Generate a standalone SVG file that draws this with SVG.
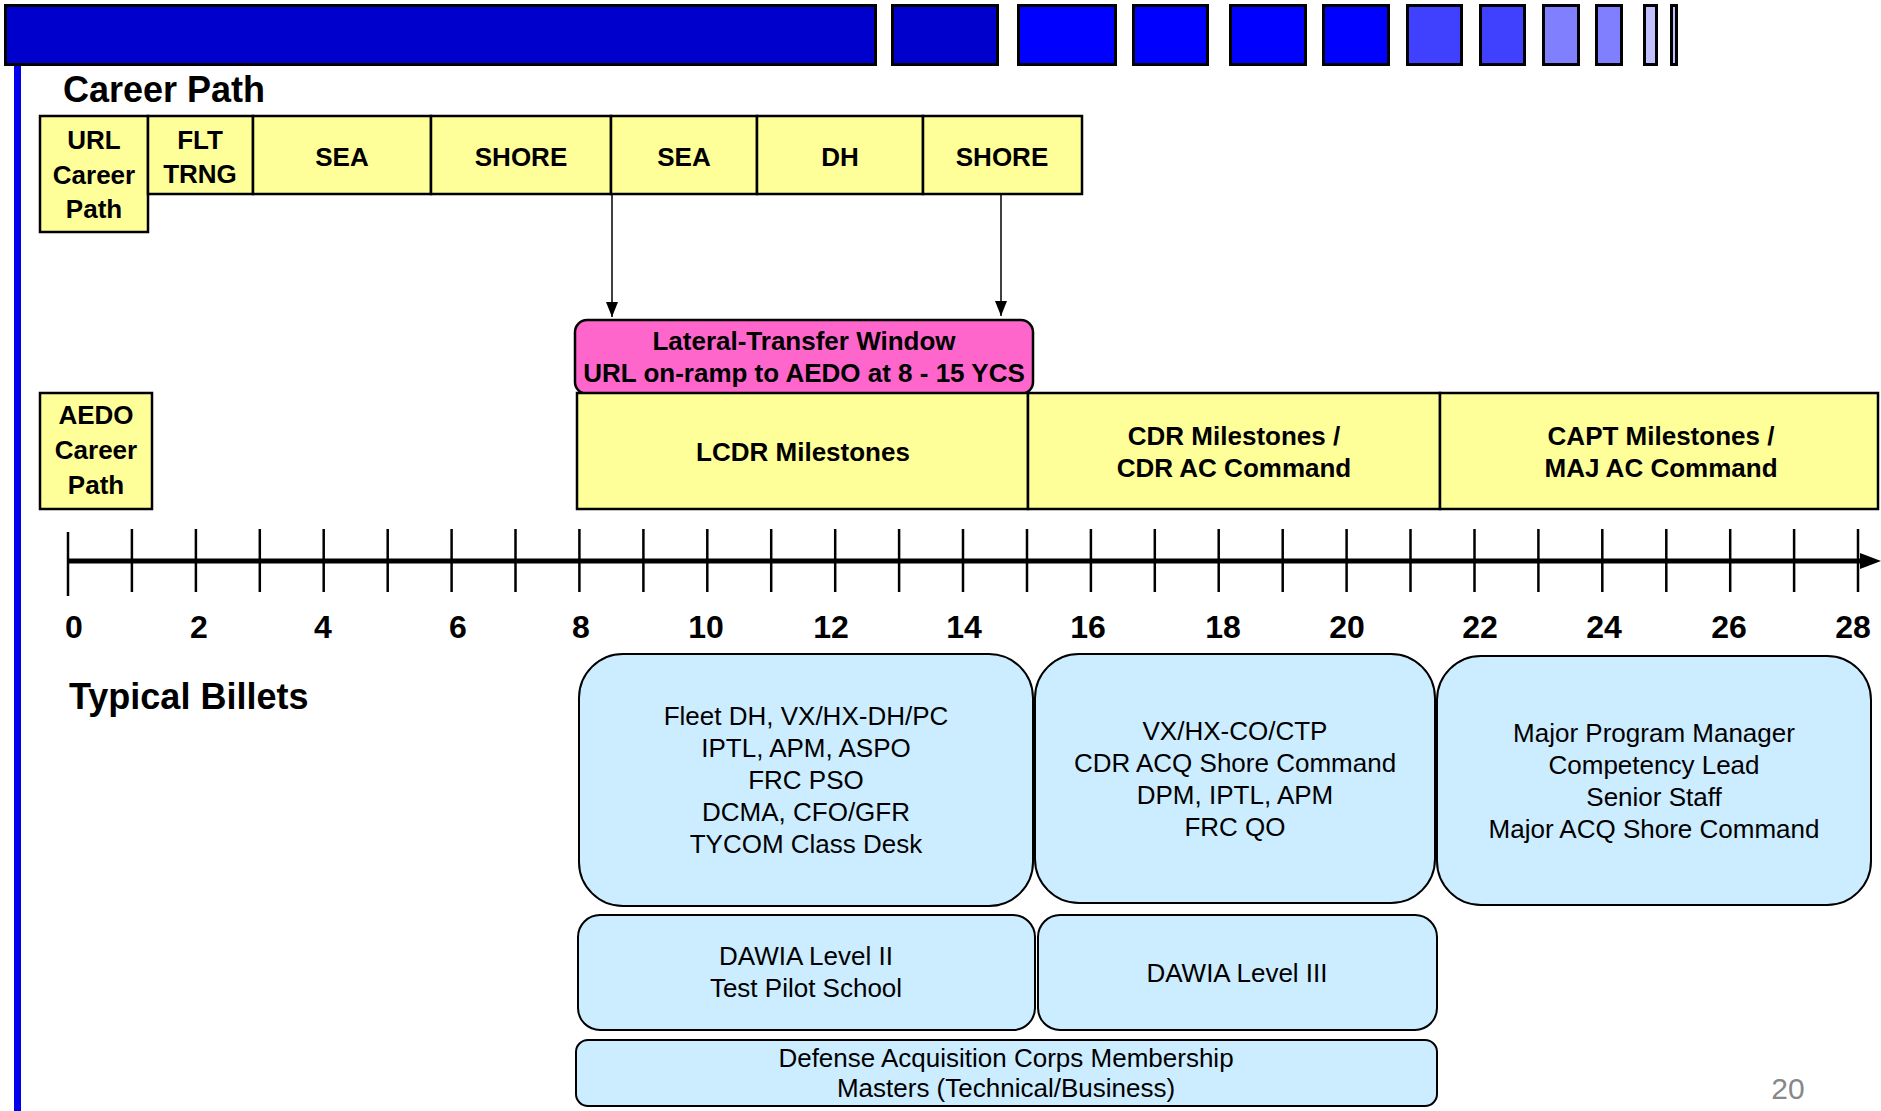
<svg xmlns="http://www.w3.org/2000/svg" width="1881" height="1111" viewBox="0 0 1881 1111">
<defs>
<style>
.bar{stroke:#000;stroke-width:3}
.yb{fill:#FFFF99;stroke:#000;stroke-width:2.5}
.bb{fill:#CCECFF;stroke:#000;stroke-width:2}
.pk{fill:#FF66CC;stroke:#000;stroke-width:2.5}
.bt{font-family:"Liberation Sans",Arial,sans-serif;font-weight:bold;font-size:26px;fill:#000;text-anchor:middle}
.rt{font-family:"Liberation Sans",Arial,sans-serif;font-size:26px;fill:#000;text-anchor:middle}
.ttl{font-family:"Liberation Sans",Arial,sans-serif;font-weight:bold;font-size:36px;fill:#000}
.num{font-family:"Liberation Sans",Arial,sans-serif;font-weight:bold;font-size:32px;fill:#000;text-anchor:middle}
.tick{stroke:#000;stroke-width:2.5}
.conn{stroke:#000;stroke-width:1.5;fill:none}
</style>
<marker id="ah" markerWidth="15" markerHeight="12" refX="15" refY="6" orient="auto" markerUnits="userSpaceOnUse" viewBox="0 0 15 12">
<path d="M0,0 L15,6 L0,12 Z" fill="#000"/>
</marker>
</defs>
<rect width="1881" height="1111" fill="#fff"/>
<g id="header-bars">
<rect class="bar" x="5.5" y="5.5" width="870" height="59" fill="#0000CC"/>
<rect class="bar" x="892.5" y="5.5" width="105" height="59" fill="#0000CC"/>
<rect class="bar" x="1018.5" y="5.5" width="97" height="59" fill="#0000FF"/>
<rect class="bar" x="1133.5" y="5.5" width="74" height="59" fill="#0000FF"/>
<rect class="bar" x="1230.5" y="5.5" width="75" height="59" fill="#0000FF"/>
<rect class="bar" x="1323.5" y="5.5" width="65" height="59" fill="#0000FF"/>
<rect class="bar" x="1407.5" y="5.5" width="54" height="59" fill="#4040FF"/>
<rect class="bar" x="1480.5" y="5.5" width="44" height="59" fill="#4040FF"/>
<rect class="bar" x="1543.5" y="5.5" width="35" height="59" fill="#8080FF"/>
<rect class="bar" x="1596.5" y="5.5" width="25" height="59" fill="#8080FF"/>
<rect class="bar" x="1644.5" y="5.5" width="12" height="59" fill="#C0C0FF"/>
<rect class="bar" x="1671.5" y="5.5" width="5" height="59" fill="#C0C0FF"/>
<rect x="14" y="66" width="7" height="1045" fill="#0000EE"/>
</g>
<text class="ttl" x="63" y="102">Career Path</text>
<text class="ttl" x="69" y="709">Typical Billets</text>
<g id="url-career-path">
<rect class="yb" x="40" y="116" width="108" height="116"/>
<text class="bt" x="94" y="149">URL</text>
<text class="bt" x="94" y="184">Career</text>
<text class="bt" x="94" y="218">Path</text>
</g>
<g id="flt-trng">
<rect class="yb" x="148" y="116" width="105" height="78"/>
<text class="bt" x="200" y="149">FLT</text>
<text class="bt" x="200" y="183">TRNG</text>
</g>
<g id="sea-1">
<rect class="yb" x="253" y="116" width="178" height="78"/>
<text class="bt" x="342" y="166">SEA</text>
</g>
<g id="shore-1">
<rect class="yb" x="431" y="116" width="180" height="78"/>
<text class="bt" x="521" y="166">SHORE</text>
</g>
<g id="sea-2">
<rect class="yb" x="611" y="116" width="146" height="78"/>
<text class="bt" x="684" y="166">SEA</text>
</g>
<g id="dh">
<rect class="yb" x="757" y="116" width="166" height="78"/>
<text class="bt" x="840" y="166">DH</text>
</g>
<g id="shore-2">
<rect class="yb" x="923" y="116" width="159" height="78"/>
<text class="bt" x="1002" y="166">SHORE</text>
</g>
<g id="connectors">
<line class="conn" x1="612" y1="194" x2="612" y2="317" marker-end="url(#ah)"/>
<line class="conn" x1="1001" y1="194" x2="1001" y2="316" marker-end="url(#ah)"/>
</g>
<g id="lateral-transfer">
<rect class="pk" x="575" y="320" width="458" height="74" rx="12" ry="12"/>
<text class="bt" x="804" y="350">Lateral-Transfer Window</text>
<text class="bt" x="804" y="382">URL on-ramp to AEDO at 8 - 15 YCS</text>
</g>
<g id="aedo-career-path">
<rect class="yb" x="40" y="393" width="112" height="116"/>
<text class="bt" x="96" y="424">AEDO</text>
<text class="bt" x="96" y="459">Career</text>
<text class="bt" x="96" y="494">Path</text>
</g>
<g id="lcdr">
<rect class="yb" x="577" y="393" width="451" height="116"/>
<text class="bt" x="803" y="461">LCDR Milestones</text>
</g>
<g id="cdr">
<rect class="yb" x="1028" y="393" width="412" height="116"/>
<text class="bt" x="1234" y="445">CDR Milestones /</text>
<text class="bt" x="1234" y="477">CDR AC Command</text>
</g>
<g id="capt">
<rect class="yb" x="1440" y="393" width="438" height="116"/>
<text class="bt" x="1661" y="445">CAPT Milestones /</text>
<text class="bt" x="1661" y="477">MAJ AC Command</text>
</g>
<g id="timeline">
<line x1="68" y1="561" x2="1862" y2="561" stroke="#000" stroke-width="5"/>
<path d="M1860,553 L1881,561 L1860,569 Z" fill="#000"/>
<line class="tick" x1="68" y1="532" x2="68" y2="596"/>
<line class="tick" x1="131.9" y1="529" x2="131.9" y2="592"/>
<line class="tick" x1="195.9" y1="529" x2="195.9" y2="592"/>
<line class="tick" x1="259.8" y1="529" x2="259.8" y2="592"/>
<line class="tick" x1="323.7" y1="529" x2="323.7" y2="592"/>
<line class="tick" x1="387.7" y1="529" x2="387.7" y2="592"/>
<line class="tick" x1="451.6" y1="529" x2="451.6" y2="592"/>
<line class="tick" x1="515.5" y1="529" x2="515.5" y2="592"/>
<line class="tick" x1="579.4" y1="529" x2="579.4" y2="592"/>
<line class="tick" x1="643.4" y1="529" x2="643.4" y2="592"/>
<line class="tick" x1="707.3" y1="529" x2="707.3" y2="592"/>
<line class="tick" x1="771.2" y1="529" x2="771.2" y2="592"/>
<line class="tick" x1="835.2" y1="529" x2="835.2" y2="592"/>
<line class="tick" x1="899.1" y1="529" x2="899.1" y2="592"/>
<line class="tick" x1="963" y1="529" x2="963" y2="592"/>
<line class="tick" x1="1027" y1="529" x2="1027" y2="592"/>
<line class="tick" x1="1090.9" y1="529" x2="1090.9" y2="592"/>
<line class="tick" x1="1154.8" y1="529" x2="1154.8" y2="592"/>
<line class="tick" x1="1218.7" y1="529" x2="1218.7" y2="592"/>
<line class="tick" x1="1282.7" y1="529" x2="1282.7" y2="592"/>
<line class="tick" x1="1346.6" y1="529" x2="1346.6" y2="592"/>
<line class="tick" x1="1410.5" y1="529" x2="1410.5" y2="592"/>
<line class="tick" x1="1474.5" y1="529" x2="1474.5" y2="592"/>
<line class="tick" x1="1538.4" y1="529" x2="1538.4" y2="592"/>
<line class="tick" x1="1602.3" y1="529" x2="1602.3" y2="592"/>
<line class="tick" x1="1666.3" y1="529" x2="1666.3" y2="592"/>
<line class="tick" x1="1730.2" y1="529" x2="1730.2" y2="592"/>
<line class="tick" x1="1794.1" y1="529" x2="1794.1" y2="592"/>
<line class="tick" x1="1858" y1="529" x2="1858" y2="592"/>
<text class="num" x="74" y="638">0</text>
<text class="num" x="199" y="638">2</text>
<text class="num" x="323" y="638">4</text>
<text class="num" x="458" y="638">6</text>
<text class="num" x="581" y="638">8</text>
<text class="num" x="706" y="638">10</text>
<text class="num" x="831" y="638">12</text>
<text class="num" x="964" y="638">14</text>
<text class="num" x="1088" y="638">16</text>
<text class="num" x="1223" y="638">18</text>
<text class="num" x="1347" y="638">20</text>
<text class="num" x="1480" y="638">22</text>
<text class="num" x="1604" y="638">24</text>
<text class="num" x="1729" y="638">26</text>
<text class="num" x="1853" y="638">28</text>
</g>
<g id="billets-lcdr">
<rect class="bb" x="579" y="654" width="454" height="252" rx="44" ry="44"/>
<text class="rt" x="806" y="725">Fleet DH, VX/HX-DH/PC</text>
<text class="rt" x="806" y="757">IPTL, APM, ASPO</text>
<text class="rt" x="806" y="789">FRC PSO</text>
<text class="rt" x="806" y="821">DCMA, CFO/GFR</text>
<text class="rt" x="806" y="853">TYCOM Class Desk</text>
</g>
<g id="billets-cdr">
<rect class="bb" x="1035" y="654" width="400" height="249" rx="44" ry="44"/>
<text class="rt" x="1235" y="740">VX/HX-CO/CTP</text>
<text class="rt" x="1235" y="772">CDR ACQ Shore Command</text>
<text class="rt" x="1235" y="804">DPM, IPTL, APM</text>
<text class="rt" x="1235" y="836">FRC QO</text>
</g>
<g id="billets-capt">
<rect class="bb" x="1437" y="656" width="434" height="249" rx="44" ry="44"/>
<text class="rt" x="1654" y="742">Major Program Manager</text>
<text class="rt" x="1654" y="774">Competency Lead</text>
<text class="rt" x="1654" y="806">Senior Staff</text>
<text class="rt" x="1654" y="838">Major ACQ Shore Command</text>
</g>
<g id="dawia-2">
<rect class="bb" x="578" y="915" width="457" height="115" rx="22" ry="22"/>
<text class="rt" x="806" y="965">DAWIA Level II</text>
<text class="rt" x="806" y="997">Test Pilot School</text>
</g>
<g id="dawia-3">
<rect class="bb" x="1038" y="915" width="399" height="115" rx="22" ry="22"/>
<text class="rt" x="1237" y="982">DAWIA Level III</text>
</g>
<g id="dac">
<rect class="bb" x="576" y="1040" width="861" height="66" rx="12" ry="12"/>
<text class="rt" x="1006" y="1067">Defense Acquisition Corps Membership</text>
<text class="rt" x="1006" y="1097">Masters (Technical/Business)</text>
</g>
<text x="1788" y="1099" font-family="'Liberation Sans',Arial,sans-serif" font-size="30" fill="#888888" text-anchor="middle">20</text>
</svg>
